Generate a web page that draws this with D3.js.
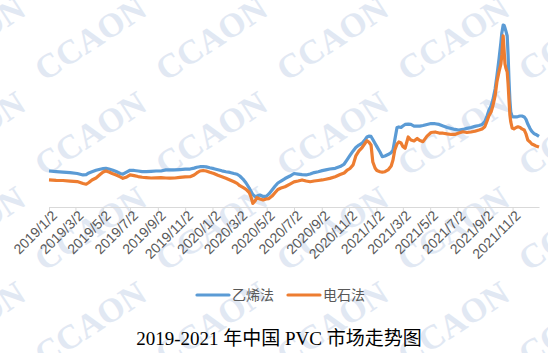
<!DOCTYPE html>
<html lang="zh">
<head>
    <meta charset="UTF-8">
    <title>2019-2021 年中国 PVC 市场走势图</title>
    <style>
        html, body { margin: 0; padding: 0; background: #fff; }
        svg { display: block; }
    </style>
</head>
<body>
    <script src="https://cdnjs.cloudflare.com/ajax/libs/d3/7.8.5/d3.min.js"></script>
    <script>
        // 日期 (大致每 1~2 周一个点, 峰值附近更密)
        var dates = [
            '2019/1/2', '2019/1/18', '2019/2/2', '2019/2/18', '2019/3/6', '2019/3/19', '2019/3/26', '2019/4/1', '2019/4/8', '2019/4/17',
            '2019/4/26', '2019/5/3', '2019/5/9', '2019/5/16', '2019/5/23', '2019/6/1', '2019/6/10', '2019/6/16', '2019/6/23', '2019/7/2',
            '2019/7/11', '2019/7/20', '2019/7/29', '2019/8/7', '2019/8/18', '2019/8/29', '2019/9/9', '2019/9/20', '2019/9/29', '2019/10/10',
            '2019/10/21', '2019/11/2', '2019/11/13', '2019/11/22', '2019/11/28', '2019/12/5', '2019/12/12', '2019/12/19', '2019/12/27', '2020/1/5',
            '2020/1/14', '2020/1/23', '2020/2/1', '2020/2/10', '2020/2/19', '2020/2/26', '2020/3/3', '2020/3/10', '2020/3/17', '2020/3/24',
            '2020/3/28', '2020/4/1', '2020/4/6', '2020/4/10', '2020/4/17', '2020/4/24', '2020/5/1', '2020/5/7', '2020/5/14', '2020/5/21',
            '2020/5/27', '2020/6/3', '2020/6/12', '2020/6/23', '2020/7/2', '2020/7/11', '2020/7/20', '2020/7/29', '2020/8/7', '2020/8/16',
            '2020/8/25', '2020/9/3', '2020/9/11', '2020/9/20', '2020/10/2', '2020/10/13', '2020/10/22', '2020/10/28', '2020/11/4', '2020/11/11',
            '2020/11/17', '2020/11/24', '2020/12/1', '2020/12/8', '2020/12/12', '2020/12/16', '2020/12/21', '2020/12/25', '2020/12/30', '2021/1/3',
            '2021/1/10', '2021/1/15', '2021/1/21', '2021/1/28', '2021/2/4', '2021/2/8', '2021/2/12', '2021/2/17', '2021/2/21', '2021/2/26',
            '2021/3/2', '2021/3/7', '2021/3/14', '2021/3/20', '2021/3/27', '2021/4/3', '2021/4/9', '2021/4/16', '2021/4/25', '2021/5/4',
            '2021/5/13', '2021/5/22', '2021/5/31', '2021/6/9', '2021/6/18', '2021/6/26', '2021/7/5', '2021/7/14', '2021/7/23', '2021/8/1',
            '2021/8/10', '2021/8/19', '2021/8/26', '2021/9/1', '2021/9/6', '2021/9/10', '2021/9/15', '2021/9/19', '2021/9/24', '2021/9/28',
            '2021/10/3', '2021/10/7', '2021/10/9', '2021/10/12', '2021/10/14', '2021/10/16', '2021/10/18', '2021/10/21', '2021/10/23', '2021/10/25',
            '2021/10/27', '2021/10/29', '2021/11/1', '2021/11/5', '2021/11/10', '2021/11/14', '2021/11/19', '2021/11/23', '2021/11/28', '2021/12/2',
            '2021/12/6', '2021/12/11', '2021/12/15', '2021/12/20', '2021/12/24', '2021/12/31'
        ];

        // 乙烯法 (元/吨, 估读)
        var ethylene = [
            7010, 6980, 6950, 6920, 6870, 6790, 6810, 6900, 6970, 7050,
            7110, 7140, 7160, 7120, 7070, 6980, 6870, 6830, 6930, 7050,
            7040, 7010, 6980, 6970, 6990, 7010, 7010, 7070, 7080, 7070,
            7090, 7110, 7120, 7170, 7220, 7250, 7260, 7240, 7190, 7140,
            7080, 7020, 6970, 6930, 6870, 6830, 6730, 6560, 6340, 6060,
            5870, 5700, 5590, 5610, 5670, 5590, 5590, 5730, 5950, 6170,
            6340, 6450, 6590, 6730, 6870, 6840, 6810, 6790, 6840, 6920,
            6970, 7030, 7070, 7120, 7160, 7260, 7400, 7620, 7880, 8130,
            8320, 8460, 8560, 8770, 8910, 8960, 8940, 8770, 8550, 8370,
            8070, 7810, 7850, 7930, 8040, 8180, 8740, 9440, 9470, 9440,
            9520, 9610, 9630, 9610, 9520, 9520, 9520, 9550, 9610, 9660,
            9650, 9610, 9520, 9440, 9380, 9330, 9300, 9330, 9390, 9440,
            9500, 9550, 9610, 9760, 10080, 10390, 10640, 10970, 11590, 12320,
            13320, 14210, 14720, 15160, 15140, 15000, 14830, 14550, 13490, 12090,
            10970, 10300, 10050, 10030, 10030, 10050, 10080, 10080, 10030, 9890,
            9630, 9380, 9220, 9100, 9050, 8940
        ];

        // 电石法
        var carbide = [
            6510, 6490, 6480, 6450, 6420, 6310, 6270, 6370, 6510, 6620,
            6810, 6950, 7010, 6950, 6870, 6790, 6680, 6600, 6660, 6790,
            6750, 6700, 6660, 6640, 6620, 6630, 6640, 6620, 6610, 6620,
            6650, 6680, 6690, 6790, 6900, 7010, 7040, 7010, 6940, 6870,
            6770, 6690, 6610, 6510, 6410, 6320, 6190, 6090, 5980, 5810,
            5560, 5200, 5340, 5520, 5450, 5390, 5450, 5470, 5610, 5810,
            5980, 6060, 6130, 6280, 6400, 6450, 6510, 6450, 6410, 6450,
            6480, 6510, 6550, 6600, 6690, 6810, 6900, 7040, 7150, 7350,
            7850, 8130, 8320, 8570, 8700, 8630, 8460, 7510, 7180, 7040,
            6970, 6950, 6970, 7070, 7290, 7620, 8180, 8520, 8630, 8570,
            8380, 8280, 8910, 8740, 8690, 8830, 8710, 8650, 8960, 9160,
            9190, 9130, 9120, 9080, 9050, 9050, 9130, 9200, 9160, 9190,
            9230, 9300, 9360, 9480, 9800, 10080, 10300, 10640, 11200, 11980,
            12590, 12990, 13490, 14550, 13770, 12990, 12760, 12540, 11870, 10970,
            10140, 9750, 9410, 9360, 9440, 9480, 9440, 9360, 9300, 9080,
            8740, 8630, 8520, 8460, 8410, 8350
        ];

        var seriesNames = ['乙烯法', '电石法'];
        var tickLabels = [
            '2019/1/2', '2019/3/2', '2019/5/2', '2019/7/2', '2019/9/2', '2019/11/2',
            '2020/1/2', '2020/3/2', '2020/5/2', '2020/7/2', '2020/9/2', '2020/11/2',
            '2021/1/2', '2021/3/2', '2021/5/2', '2021/7/2', '2021/9/2', '2021/11/2'
        ];
        var title = '2019-2021 年中国 PVC 市场走势图';

        var W = 548, H = 353;
        var colors = ['#5b9bd5', '#ed7d31'];
        var parse = d3.timeParse('%Y/%m/%d');

        var svg = d3.select('body')
            .append('svg')
            .attr('width', W)
            .attr('height', H);

        // 水印 (左边一列只露出一半, 和原图一样)
        var wm = svg.append('g').attr('class', 'watermark');
        d3.range(-1, 5).forEach(function (i) {
            d3.range(0, 4).forEach(function (j) {
                wm.append('text')
                    .attr('transform', 'translate(' + (90 + i * 121) + ',' + (38 + j * 95) + ') rotate(-33)')
                    .attr('text-anchor', 'middle')
                    .attr('dy', '0.35em')
                    .style('font-family', '"Liberation Serif", "DejaVu Serif", serif')
                    .style('font-weight', 'bold')
                    .style('font-size', '34px')
                    .style('fill', '#e1e8f3')
                    .text('CCAON');
            });
        });

        var x = d3.scaleTime()
            .domain([parse('2019/1/2'), parse('2021/12/31')])
            .range([49, 539]);
        var y = d3.scaleLinear()
            .domain([5000, 16000])
            .range([207, 10]);

        var xAxis = d3.axisBottom(x)
            .tickValues(tickLabels.map(parse))
            .tickFormat(d3.timeFormat('%Y/%-m/%-d'))
            .tickSize(4)
            .tickSizeOuter(0);

        var gx = svg.append('g')
            .attr('transform', 'translate(0,207)')
            .call(xAxis);
        gx.select('.domain').attr('stroke', '#d9d9d9');
        gx.selectAll('.tick line').attr('stroke', '#d9d9d9');
        gx.selectAll('.tick text')
            .attr('text-anchor', 'end')
            .attr('transform', 'translate(5,6) rotate(-45)')
            .attr('dy', '0.35em')
            .attr('y', 0)
            .attr('x', 0)
            .style('font-family', '"Liberation Sans", Arial, sans-serif')
            .style('font-size', '14px')
            .style('fill', '#595959');

        // 折线
        var series = [ethylene, carbide];
        var line = d3.line()
            .x(function (d, i) { return x(parse(dates[i])); })
            .y(function (d) { return y(d); });

        svg.selectAll('.series')
            .data(series)
            .enter()
            .append('path')
            .attr('class', 'series')
            .attr('d', line)
            .attr('fill', 'none')
            .attr('stroke', function (d, i) { return colors[i]; })
            .attr('stroke-width', 3.2)
            .attr('stroke-linejoin', 'round');

        // 图例
        var legendX = [197, 288];
        var legend = svg.selectAll('.legend')
            .data(seriesNames)
            .enter()
            .append('g')
            .attr('class', 'legend')
            .attr('transform', function (d, i) { return 'translate(' + legendX[i] + ',295)'; });
        legend.append('line')
            .attr('x1', 0).attr('x2', 32)
            .attr('stroke', function (d, i) { return colors[i]; })
            .attr('stroke-width', 3.2)
            .attr('stroke-linecap', 'round');
        legend.append('text')
            .attr('x', 35)
            .attr('dy', '0.35em')
            .style('font-family', '"Noto Sans CJK SC", sans-serif')
            .style('font-size', '14px')
            .style('fill', '#595959')
            .text(function (d) { return d; });

        // 标题
        svg.append('text')
            .attr('x', 279)
            .attr('y', 345)
            .attr('text-anchor', 'middle')
            .style('font-family', '"Liberation Serif", "Noto Sans CJK SC", serif')
            .style('font-size', '19px')
            .style('fill', '#000')
            .text(title);
    </script>
</body>
</html>
